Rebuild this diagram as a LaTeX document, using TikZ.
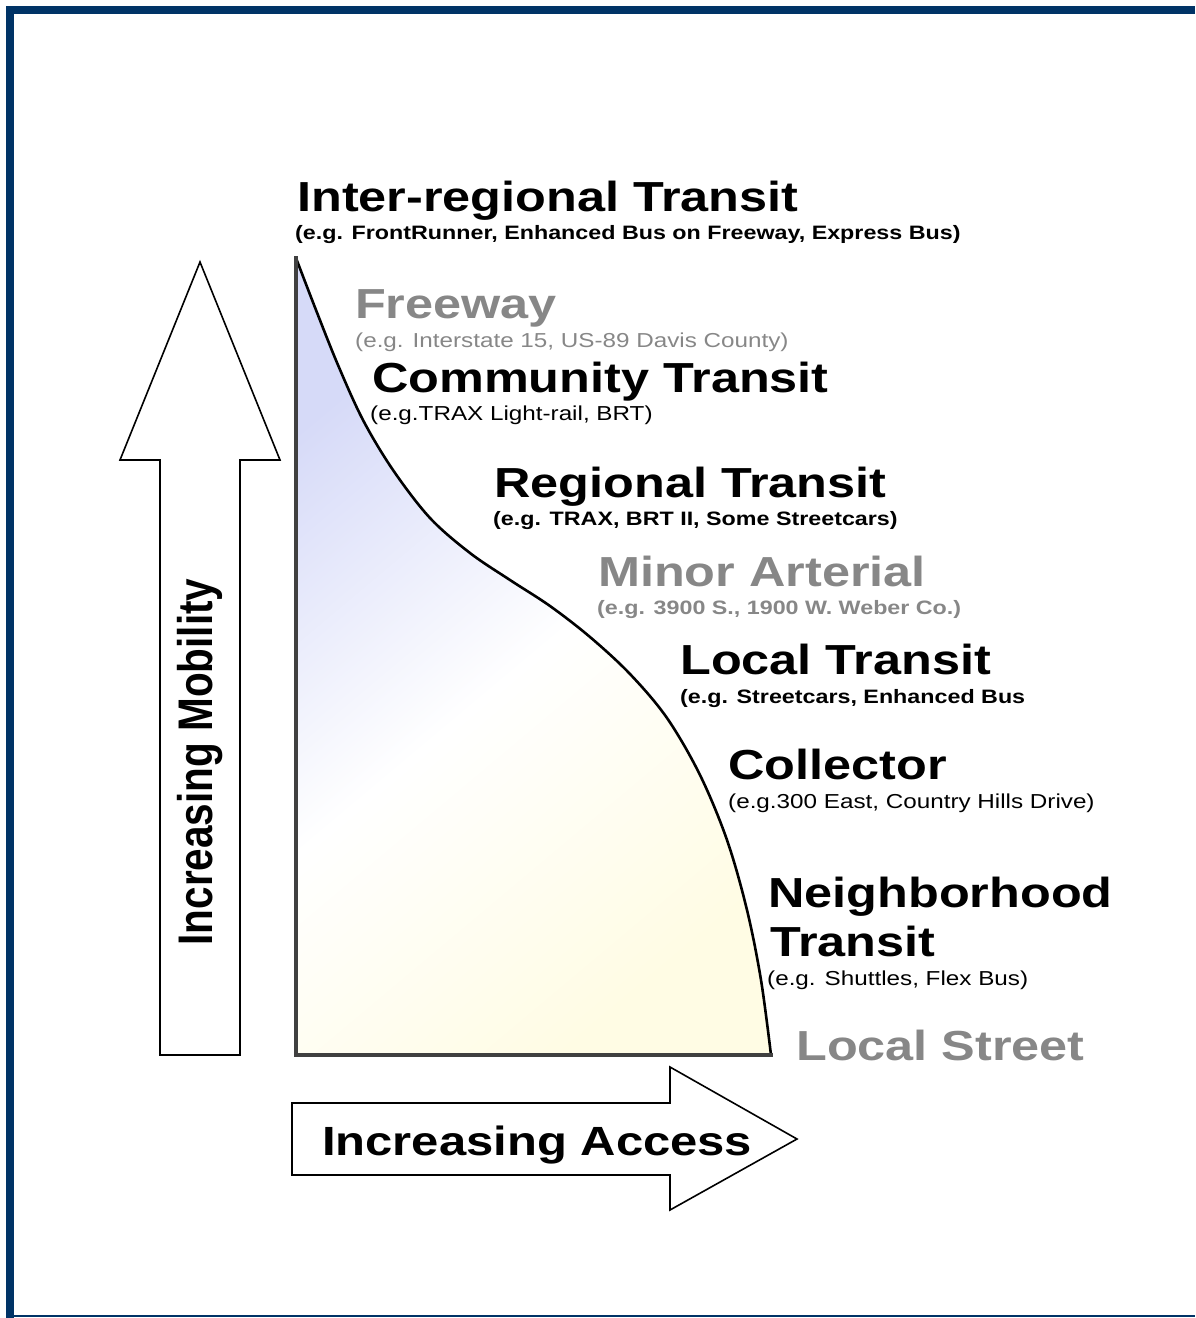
\documentclass[tikz,border=0pt]{standalone}
\usepackage{fontspec}
\setmainfont{Liberation Sans}[FakeStretch=1.2]
\newfontfamily\plainsans{Liberation Sans}
\usepackage{graphicx}
\usepackage{tikz}
\usetikzlibrary{positioning}
\definecolor{framenavy}{RGB}{0,51,102}
\definecolor{roadgray}{RGB}{135,135,135}
\definecolor{lavender}{RGB}{214,218,248}
\definecolor{cream}{RGB}{255,252,228}
\newcommand{\curvepts}{(296,258) (316,310) (338,365) (363,420) (393,470) (430,518) (470,553) (510,580) (550,606) (590,637) (630,674) (667,718) (700,775) (727,840) (747,910) (761,980) (771,1055)}

\begin{document}
\begin{tikzpicture}[x=1pt, y=-1pt,
        head/.style={anchor=base west, inner sep=0pt, font=\fontsize{42}{48}\selectfont\bfseries},
        subb/.style={anchor=base west, inner sep=0pt, font=\fontsize{19.4}{23}\selectfont\bfseries},
        subr/.style={anchor=base west, inner sep=0pt, font=\fontsize{20.2}{24}\selectfont},
        road/.style={text=roadgray},
        bigarrow/.style={draw=black, line width=1.6pt, fill=white},
        axis/.style={draw=black!75, line width=4pt}]
        \useasboundingbox (0,0) rectangle (1195,1318);
        \fill [framenavy] (6,6) rectangle (1195,14);
        \fill [framenavy] (6,6) rectangle (14,1318);
        \draw [framenavy, line width=1.5pt] (6,1316) -- (1195,1316);

        \coordinate (top) at (296,258);
        \coordinate (origin) at (296,1055);
        \coordinate (end) at (771,1055);
        \shade [top color=lavender, bottom color=cream, middle color=white, shading angle=40]
            plot [smooth, tension=0.55] coordinates {\curvepts} -- (origin) -- cycle;
        \draw [black, line width=2.6pt] plot [smooth, tension=0.55] coordinates {\curvepts};
        \draw [axis, line cap=rect] (top) -- (origin) -- (end);

        \draw [bigarrow] (160,1055) -- (160,460) -- (120,460) -- (200,262) -- (280,460) -- (240,460) -- (240,1055) -- cycle;
        \draw [bigarrow] (292,1103) -- (670,1103) -- (670,1067) -- (797,1139) -- (670,1210) -- (670,1175) -- (292,1175) -- cycle;
        \node [rotate=90, inner sep=0pt, font=\plainsans\fontsize{40.5}{46}\selectfont\bfseries] (mobility) at (200,762) {\scalebox{1}[1.2]{Increasing Mobility}};
        \node [anchor=base west, inner sep=0pt, font=\fontsize{40.8}{46}\selectfont\bfseries] (access) at (322,1155) {Increasing Access};

        \node [head] (inter) at (297,211) {Inter-regional Transit};
        \node [subb] (intereg) at (295,239) {(e.g. FrontRunner, Enhanced Bus on Freeway, Express Bus)};
        \node [head, road] (freeway) at (355,318) {Freeway};
        \node [subr, road] (freewayeg) at (355,347) {(e.g. Interstate 15, US-89 Davis County)};
        \node [head] (community) at (372,392) {Community Transit};
        \node [subr] (communityeg) at (370,420) {(e.g.TRAX Light-rail, BRT)};
        \node [head] (regional) at (494,497) {Regional Transit};
        \node [subb] (regionaleg) at (493,525) {(e.g. TRAX, BRT II, Some Streetcars)};
        \node [head, road] (minor) at (598,586) {Minor Arterial};
        \node [subb, road] (minoreg) at (597,614) {(e.g. 3900 S., 1900 W. Weber Co.)};
        \node [head] (local) at (680,674) {Local Transit};
        \node [subb] (localeg) at (680,703) {(e.g. Streetcars, Enhanced Bus};
        \node [head] (collector) at (728,779) {Collector};
        \node [subr] (collectoreg) at (728,808) {(e.g.300 East, Country Hills Drive)};
        \node [head] (neighborhood) at (768,907) {Neighborhood};
        \node [head] (neighborhood2) at (770,956) {Transit};
        \node [subr] (neighborhoodeg) at (767,985) {(e.g. Shuttles, Flex Bus)};
        \node [head, road] (street) at (796,1060) {Local Street};
\end{tikzpicture}
\end{document}
